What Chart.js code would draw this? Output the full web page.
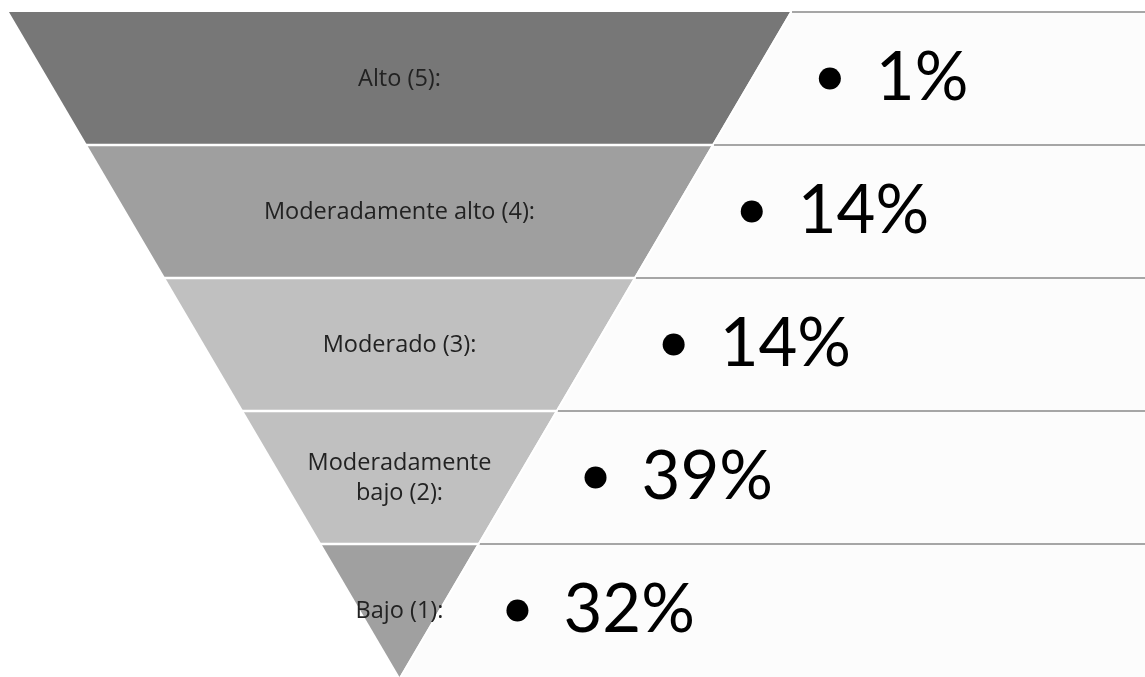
<!DOCTYPE html>
<html>
<head>
<meta charset="utf-8">
<script src="https://cdn.jsdelivr.net/npm/chart.js@4.4.0/dist/chart.umd.min.js"></script>
<style>
  html, body { margin: 0; padding: 0; background: #ffffff; }
  #wrap { width: 1145px; height: 677px; position: relative; }
</style>
</head>
<body>
<div id="wrap"><canvas id="grafico"></canvas></div>
<script>
// niveles de arriba hacia abajo
var niveles = ['Alto (5):', 'Moderadamente alto (4):', 'Moderado (3):', ['Moderadamente', 'bajo (2):'], 'Bajo (1):'];
var porcentajes = [1, 14, 14, 39, 32];
var colores = ['#777777', '#9f9f9f', '#c0c0c0', '#c0c0c0', '#a0a0a0'];

var NBANDAS = niveles.length;
// media anchura del triangulo a la altura y (y = 0 en el vertice)
function mitad(y) { return y / NBANDAS; }

// puntos (viñetas) a la derecha de cada banda
var vinetas = porcentajes.map(function (p, i) {
    var yc = NBANDAS - i - 0.5;
    return { x: mitad(yc) + 0.202, y: yc, v: p };
});

var piramide = {
    id: 'piramide',
    beforeDatasetsDraw: function (chart) {
        var ctx = chart.ctx, xs = chart.scales.x, ys = chart.scales.y;
        var px = function (v) { return xs.getPixelForValue(v); };
        var py = function (v) { return ys.getPixelForValue(v); };
        var right = chart.width;
        ctx.save();
        // cajas de texto a la derecha
        for (var i = 0; i < NBANDAS; i++) {
            var yt = NBANDAS - i, yb = yt - 1;
            ctx.beginPath();
            ctx.moveTo(px(mitad(yt)) + 2, py(yt));
            ctx.lineTo(right, py(yt));
            ctx.lineTo(right, py(yb));
            ctx.lineTo(px(mitad(yb)) + 2, py(yb));
            ctx.closePath();
            ctx.fillStyle = '#fcfcfc';
            ctx.fill();
            ctx.strokeStyle = '#a6a6a6';
            ctx.lineWidth = 2;
            ctx.beginPath();
            ctx.moveTo(px(mitad(yt)) + 2, py(yt));
            ctx.lineTo(right, py(yt));
            ctx.stroke();
        }
        // bandas del triangulo
        for (var j = 0; j < NBANDAS; j++) {
            var t = NBANDAS - j, b = t - 1;
            ctx.beginPath();
            ctx.moveTo(px(-mitad(t)), py(t));
            ctx.lineTo(px(mitad(t)), py(t));
            ctx.lineTo(px(mitad(b)), py(b));
            ctx.lineTo(px(-mitad(b)), py(b));
            ctx.closePath();
            ctx.fillStyle = colores[j];
            ctx.fill();
        }
        // separadores blancos
        ctx.strokeStyle = '#ffffff';
        ctx.lineWidth = 2.5;
        for (var k = 1; k < NBANDAS; k++) {
            ctx.beginPath();
            ctx.moveTo(px(-mitad(k)) - 2, py(k));
            ctx.lineTo(px(mitad(k)) + 1, py(k));
            ctx.stroke();
        }
        ctx.lineWidth = 1.5;
        ctx.beginPath();
        ctx.moveTo(px(mitad(NBANDAS)) + 1, py(NBANDAS));
        ctx.lineTo(px(0) + 1, py(0));
        ctx.stroke();
        // rotulos
        ctx.fillStyle = '#222222';
        ctx.font = '23.5px "Open Sans"';
        ctx.textAlign = 'center';
        ctx.textBaseline = 'middle';
        for (var m = 0; m < NBANDAS; m++) {
            var yc = py(NBANDAS - m - 0.5);
            var lineas = Array.isArray(niveles[m]) ? niveles[m] : [niveles[m]];
            lineas.forEach(function (l, n) {
                ctx.fillText(l, px(0), yc + 1 + (n - (lineas.length - 1) / 2) * 30);
            });
        }
        ctx.restore();
    },
    afterDatasetsDraw: function (chart) {
        var ctx = chart.ctx, meta = chart.getDatasetMeta(0);
        ctx.save();
        ctx.fillStyle = '#000000';
        ctx.font = '67px Lato';
        ctx.textAlign = 'left';
        ctx.textBaseline = 'alphabetic';
        meta.data.forEach(function (pt, i) {
            ctx.fillText(porcentajes[i] + '%', pt.x + 46, pt.y + 22);
        });
        ctx.restore();
    }
};

var ctx = document.querySelector('#grafico').getContext('2d');
var grafico = new Chart(ctx, {
    type: 'scatter',
    data: {
        datasets: [{
            data: vinetas,
            backgroundColor: '#000000',
            borderWidth: 0,
            pointRadius: 11
        }]
    },
    options: {
        responsive: true,
        maintainAspectRatio: false,
        animation: false,
        layout: { padding: 0, autoPadding: false },
        plugins: { legend: { display: false }, tooltip: { enabled: false } },
        scales: {
            x: { type: 'linear', display: false, min: -1.023, max: 1.909 },
            y: { type: 'linear', display: false, min: 0, max: 5.09 }
        }
    },
    plugins: [piramide]
});
</script>
</body>
</html>
